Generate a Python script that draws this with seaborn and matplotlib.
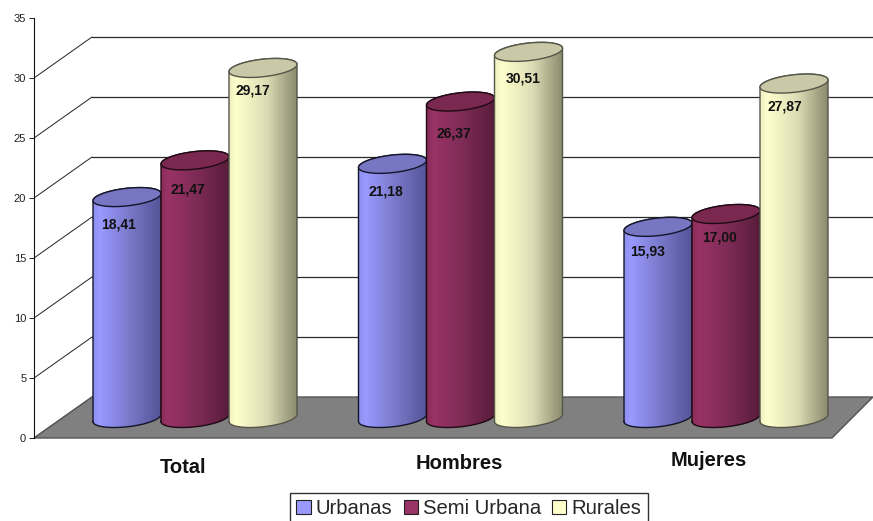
import numpy as np
import pandas as pd
import seaborn as sns
import matplotlib.pyplot as plt
from matplotlib.colors import LinearSegmentedColormap
from matplotlib.patches import Patch
from matplotlib.path import Path
from matplotlib.transforms import ScaledTranslation

# =========================
# description: chart values
# =========================

categories = ["Total", "Hombres", "Mujeres"]
series = ["Urbanas", "Semi Urbana", "Rurales"]
urbanas = [18.41, 21.18, 15.93]
semi_urbana = [21.47, 26.37, 17.00]
rurales = [29.17, 30.51, 27.87]
value_labels = [
    ["18,41", "21,18", "15,93"],
    ["21,47", "26,37", "17,00"],
    ["29,17", "30,51", "27,87"],
]
y_ticks = [0, 5, 10, 15, 20, 25, 30, 35]

# =========================
# description: styles and layout (pixels unless noted)
# =========================

W, H = 873, 521
PX_Y = 12.0        # pixels per value unit
PX_X = 265.5       # pixels per category
BASE = 20 / PX_Y   # cylinders stand on the floor, not on the axis
DEPTH_X = 58 / PX_X
DEPTH_Y = 41 / PX_Y
RIGHT_CUT = 41 / PX_X
ELL_B = 8.8 / PX_Y
ELL_K = 3.6 / PX_Y

face = ["#9999FF", "#993366", "#FFFFCC"]
top_face = ["#7676C2", "#7A2850", "#C9C9A8"]
edge = ["#15152A", "#1E0A14", "#55554A"]
ramp_pos = [0, 0.1, 0.55, 1]
ramps = [
    ["#9090F0", "#9999FF", "#7878C8", "#545498"],
    ["#8A2C5A", "#993366", "#7C2B55", "#581C3A"],
    ["#F0F0C0", "#FFFFCC", "#DDDDB5", "#8A8A6E"],
]
label_dx = [[-8, -7, -10], [-7, -7, -6], [-10, -5, -9]]
label_dy = [[27, 28, 25], [29, 32, 24], [23, 27, 23]]
cat_dx = [-12, -1, -17]
cat_dy = [0, 4, 7]

sns.set_theme(style="ticks")
plt.rcParams["font.family"] = ["Liberation Sans", "DejaVu Sans"]

df = pd.DataFrame({
    "grupo": categories * 3,
    "zona": [s for s in series for _ in categories],
    "valor": urbanas + semi_urbana + rurales,
})

fig = plt.figure(figsize=(W / 100, H / 100), dpi=100)
ax = fig.add_axes([34 / W, (H - 438) / H, (W - 34) / W, 420 / H])

sns.barplot(
    data=df, x="grupo", y="valor", hue="zona",
    order=categories, hue_order=series, palette=face,
    width=204 / PX_X, gap=0, saturation=1, errorbar=None,
    bottom=BASE, linewidth=0, ax=ax, legend=False,
)

x0 = (34 - 195) / PX_X
x1 = (W - 195) / PX_X


def ellipse(cx, cy, a, t):
    return np.column_stack([
        cx + a * np.cos(t),
        cy + ELL_B * np.sin(t) + ELL_K * np.cos(t),
    ])


# =========================
# description: back wall and floor
# =========================

for v in y_ticks[:-1]:
    if v > 0:
        ax.plot([x0 + DEPTH_X, x1], [v + DEPTH_Y] * 2, color="#2a2a2a", lw=0.9, zorder=1)
    ax.plot([x0, x0 + DEPTH_X], [v, v + DEPTH_Y], color="#222222", lw=0.7, zorder=1)

ax.fill(
    [x0, x0 + DEPTH_X, x1, x1 - RIGHT_CUT],
    [0, DEPTH_Y, DEPTH_Y, 0],
    facecolor="#808080", edgecolor="#555555", lw=1.0, zorder=2, clip_on=False,
)

# =========================
# description: turn the flat bars into cylinders
# =========================

for i, container in enumerate(ax.containers):
    cmap = LinearSegmentedColormap.from_list(series[i], list(zip(ramp_pos, ramps[i])))
    for j, bar in enumerate(container.patches):
        a = bar.get_width() / 2
        cx = bar.get_x() + a
        y_low = bar.get_y()
        y_top = y_low + bar.get_height()
        z = 3 + i

        low = ellipse(cx, y_low, a, np.linspace(np.pi, 2 * np.pi, 60))
        up = ellipse(cx, y_top, a, np.linspace(0, np.pi, 60))
        outline = np.vstack([low, up, low[:1]])
        clip = Path(outline)

        bar.set_clip_path(clip, ax.transData)
        bar.set_zorder(z)

        im = ax.imshow(
            np.linspace(0, 1, 128).reshape(1, -1), cmap=cmap, aspect="auto",
            extent=[cx - a, cx + a, y_low - 1.5, y_top + 1.5],
            interpolation="bilinear", zorder=z,
        )
        im.set_clip_path(clip, ax.transData)
        ax.plot(outline[:, 0], outline[:, 1], color=edge[i], lw=1.0, zorder=z)

        cap = ellipse(cx, y_top, a, np.linspace(0, 2 * np.pi, 120))
        ax.fill(cap[:, 0], cap[:, 1], facecolor=top_face[i], edgecolor=edge[i], lw=1.0, zorder=z)

        ax.annotate(
            value_labels[i][j], (cx, y_top),
            xytext=(label_dx[i][j] * 0.72, -label_dy[i][j] * 0.72),
            textcoords="offset points", ha="center", va="center",
            fontsize=10, fontweight="bold", color="#111111", zorder=10,
        )

# =========================
# description: axes, tick labels, legend
# =========================

ax.set_xlim(x0, x1)
ax.set_ylim(0, 35)
ax.set_xlabel("")
ax.set_ylabel("")
ax.set_yticks(y_ticks)
ax.set_yticklabels([str(v) for v in y_ticks])
ax.tick_params(axis="y", length=3.6, width=0.7, pad=2, labelsize=8, colors="#222222")
ax.tick_params(axis="x", length=0, pad=14.5, labelsize=14.5)
for k, lab in enumerate(ax.get_xticklabels()):
    lab.set_fontweight("bold")
    lab.set_color("#111111")
    lab.set_transform(lab.get_transform() + ScaledTranslation(
        cat_dx[k] / 100, cat_dy[k] / 100, fig.dpi_scale_trans))

for side in ["top", "right", "bottom"]:
    ax.spines[side].set_visible(False)
ax.spines["left"].set_linewidth(0.8)
ax.spines["left"].set_color("#111111")

handles = [Patch(facecolor=face[i], edgecolor="#222222", linewidth=0.8, label=series[i]) for i in range(3)]
leg = ax.legend(
    handles=handles, ncols=3, loc="upper left",
    bbox_to_anchor=(290 / W, 1 - 493 / H), bbox_transform=fig.transFigure,
    borderaxespad=0, fancybox=False, framealpha=1, edgecolor="#333333",
    fontsize=14.6, handlelength=0.7, handleheight=0.7, handletextpad=0.25,
    columnspacing=0.55, borderpad=0.32,
)
leg.get_frame().set_linewidth(1.0)

fig.savefig("out.png", dpi=100)
